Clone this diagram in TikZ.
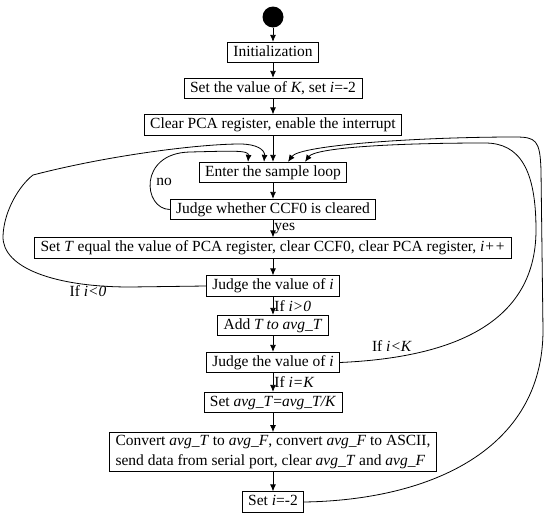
\documentclass[tikz,border=0pt]{standalone}
\usepackage{fontspec}
\setmainfont{Liberation Serif}
\usetikzlibrary{arrows.meta}

\begin{document}
\begin{tikzpicture}[x=1pt, y=-1pt, line width=0.8pt,
	flow/.style={-{Latex[length=7pt,width=6pt]}},
	stepbox/.style={draw, font=\fontsize{15.5}{19.5}\selectfont, inner xsep=6pt, inner ysep=3pt},
	onebox/.style={stepbox, text height=11pt, text depth=3.5pt},
	lbl/.style={font=\fontsize{15.5}{19.5}\selectfont, inner sep=1pt}]

	\useasboundingbox (0,0) rectangle (550,517);

	% steps of the flow
	\node[circle, fill=black, minimum size=21pt, inner sep=0pt] (start) at (273,17) {};
	\node[onebox] (init) at (273,52.5) {Initialization};
	\node[onebox] (setk) at (273,88.5) {Set the value of \textit{K}, set \textit{i}=-2};
	\node[onebox] (clear) at (273,125) {Clear PCA register, enable the interrupt};
	\node[onebox] (enter) at (273,172.5) {Enter the sample loop};
	\node[onebox] (judgeccf) at (273,209.5) {Judge whether CCF0 is cleared};
	\node[onebox] (sett) at (273,248) {Set \textit{T} equal the value of PCA register, clear CCF0, clear PCA register, \textit{i++}};
	\node[onebox] (judgei) at (273,286) {Judge the value of \textit{i}};
	\node[onebox] (addt) at (273,325.5) {Add \textit{T to avg\_T}};
	\node[onebox] (judgek) at (273,362.5) {Judge the value of \textit{i}};
	\node[onebox] (setavg) at (273,402.5) {Set \textit{avg\_T}=\textit{avg\_T/K}};
	\node[stepbox, align=left] (convert) at (273,452) {Convert \textit{avg\_T} to \textit{avg\_F}, convert \textit{avg\_F} to ASCII,\\send data from serial port, clear \textit{avg\_T} and \textit{avg\_F}};
	\node[onebox] (reset) at (273,502) {Set \textit{i}=-2};

	% straight arrows
	\draw[flow] (start) -- (init);
	\draw[flow] (init) -- (setk);
	\draw[flow] (setk) -- (clear);
	\draw[flow] (clear) -- (enter);
	\draw[flow] (enter) -- (judgeccf);
	\draw[flow] (judgeccf) -- (sett) node[midway, right, lbl] {yes};
	\draw[flow] (sett) -- (judgei);
	\draw[flow] (judgei) -- (addt) node[midway, right, lbl] {If \textit{i>0}};
	\draw[flow] (addt) -- (judgek);
	\draw[flow] (judgek) -- (setavg) node[midway, right, lbl] {If \textit{i=K}};
	\draw[flow] (setavg) -- (convert);
	\draw[flow] (convert) -- (reset);

	% loops back to the sample loop
	\draw[flow] (judgeccf.west) .. controls (143,209) and (138,153) .. (190,152) .. controls (232,151) and (249,150) .. ([xshift=-25pt]enter.north);
	\draw[flow] (judgei.west) -- (130,287) .. controls (55,287) and (2,268) .. (3,236) .. controls (4,210) and (20,185) .. (33,175) .. controls (110,155) and (200,144) .. (240,144) .. controls (257,144) and (265,150) .. ([xshift=-9pt]enter.north);
	\draw[flow] (judgek.east) .. controls (440,358) and (536,330) .. (536,230) .. controls (536,170) and (520,143) .. (485,143) .. controls (390,143) and (315,148) .. ([xshift=32pt]enter.north);
	\draw[flow] (reset.east) .. controls (430,500) and (543,450) .. (543,330) -- (541,170) .. controls (540,140) and (536,137) .. (515,137) .. controls (420,137) and (300,145) .. ([xshift=15pt]enter.north);

	\draw (88,291) node[lbl] {If \textit{i<0}};
	\draw (164,182) node[lbl] {no};
	\draw (392,346) node[lbl] {If \textit{i<K}};
\end{tikzpicture}
\end{document}
